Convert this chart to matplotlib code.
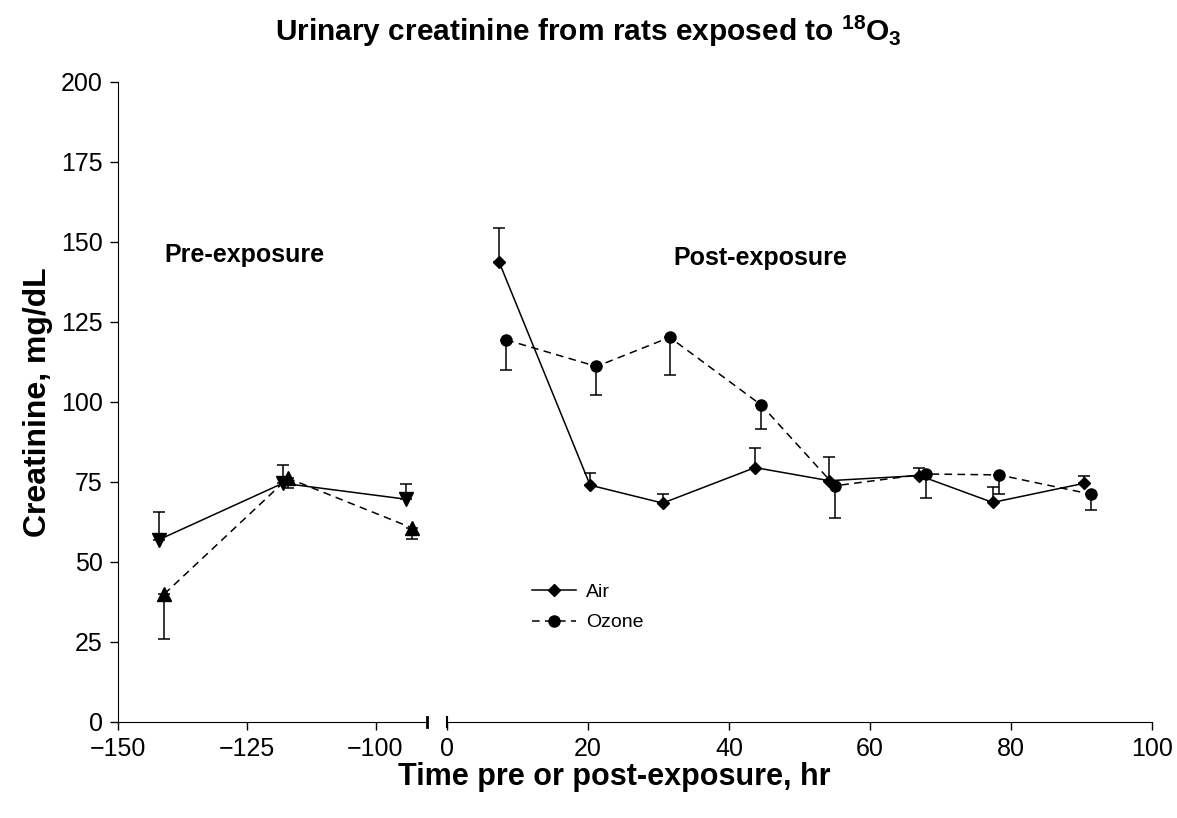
import matplotlib
matplotlib.use("Agg")
import matplotlib.pyplot as plt

plt.rcParams['font.family'] = ['Liberation Sans', 'DejaVu Sans']
plt.rcParams['mathtext.fontset'] = 'custom'
plt.rcParams['mathtext.rm'] = 'Liberation Sans'
plt.rcParams['mathtext.bf'] = 'Liberation Sans:bold'

# Pre-exposure data (hr before exposure)
pre_air_x = [-142, -118, -94]
pre_air_y = [57, 74.6, 69.6]
pre_air_err = [8.6, 5.6, 4.7]

pre_ozone_x = [-141, -117, -93]
pre_ozone_y = [40, 76.2, 60.7]
pre_ozone_err = [14, 3, 3.4]

# Post-exposure data (hr after exposure)
post_air_x = [7.4, 20.3, 30.6, 43.7, 54.2, 67.0, 77.4, 90.4]
post_air_y = [143.7, 74.0, 68.4, 79.5, 75.4, 77.0, 68.6, 74.6]
post_air_err = [10.7, 3.7, 2.8, 6.0, 7.3, 2.3, 4.9, 2.3]

post_ozone_x = [8.4, 21.2, 31.6, 44.6, 55.0, 67.9, 78.3, 91.3]
post_ozone_y = [119.4, 111.1, 120.2, 99.0, 73.8, 77.5, 77.2, 71.2]
post_ozone_err = [9.4, 8.9, 11.8, 7.3, 10.0, 7.4, 5.9, 5.1]

yticks = [0, 25, 50, 75, 100, 125, 150, 175, 200]

fig = plt.figure(figsize=(11.77, 8.18), dpi=100)
ax1 = fig.add_axes([118 / 1177, 0.1174, 309 / 1177, 0.7824])
ax2 = fig.add_axes([447 / 1177, 0.1174, 705 / 1177, 0.7824])

lw = 1.1
cap = 4.5
zeros = lambda v: [0] * len(v)

# left panel
ax1.errorbar(pre_air_x, pre_air_y, yerr=[zeros(pre_air_err), pre_air_err],
             color='black', lw=lw, marker='v', ms=9.5, capsize=cap, elinewidth=lw, capthick=lw)
ax1.errorbar(pre_ozone_x, pre_ozone_y, yerr=[pre_ozone_err, zeros(pre_ozone_err)],
             color='black', lw=lw, ls=(0, (5, 3.5)), marker='^', ms=9.5, capsize=cap,
             elinewidth=lw, capthick=lw)

# right panel
air = ax2.errorbar(post_air_x, post_air_y, yerr=[zeros(post_air_err), post_air_err],
                   color='black', lw=lw, marker='D', ms=6.5, capsize=cap, elinewidth=lw, capthick=lw)
ozone = ax2.errorbar(post_ozone_x, post_ozone_y, yerr=[post_ozone_err, zeros(post_ozone_err)],
                     color='black', lw=lw, ls=(0, (5, 3.5)), marker='o', ms=8, capsize=cap,
                     elinewidth=lw, capthick=lw)

ax1.set_xlim(-150, -90)
ax2.set_xlim(0, 100)
for ax in (ax1, ax2):
    ax.set_ylim(0, 200)
    ax.spines['top'].set_visible(False)
    ax.spines['right'].set_visible(False)
    ax.tick_params(direction='out', length=6, width=1, labelsize=18, pad=5)

ax1.set_yticks(yticks)
ax1.set_xticks([-150, -125, -100])
ax1.set_xticklabels(['\u2212150', '\u2212125', '\u2212100'])
ax2.set_xticks([0, 20, 40, 60, 80, 100])
ax2.spines['left'].set_visible(False)
ax2.set_yticks([])

# axis break marks
ax1.plot([-90, -90], [-0.008, 0.008], transform=ax1.get_xaxis_transform(),
         color='black', lw=2, clip_on=False)
ax2.plot([0, 0], [-0.008, 0.008], transform=ax2.get_xaxis_transform(),
         color='black', lw=1.5, clip_on=False)

ax1.text(-125.5, 146, 'Pre-exposure', fontsize=18, fontweight='bold', ha='center', va='center')
ax2.text(44.4, 145, 'Post-exposure', fontsize=18, fontweight='bold', ha='center', va='center')

fig.text(0.5, 0.962, 'Urinary creatinine from rats exposed to $\\mathbf{^{18}O_3}$',
         fontsize=21.5, fontweight='bold', ha='center', va='center')
fig.text(614 / 1177, 0.050, 'Time pre or post-exposure, hr',
         fontsize=22, fontweight='bold', ha='center', va='center')
fig.text(0.032, 0.508, 'Creatinine, mg/dL', fontsize=23, fontweight='bold',
         ha='center', va='center', rotation=90)

leg = ax2.legend([air[0], ozone[0]], ['Air', 'Ozone'], loc='upper left',
                 bbox_to_anchor=(514 / 1177, 1 - 566 / 818), bbox_transform=fig.transFigure,
                 frameon=False, fontsize=14, handlelength=2.3, labelspacing=0.65,
                 handletextpad=0.5)

fig.savefig('out.png', dpi=100)
